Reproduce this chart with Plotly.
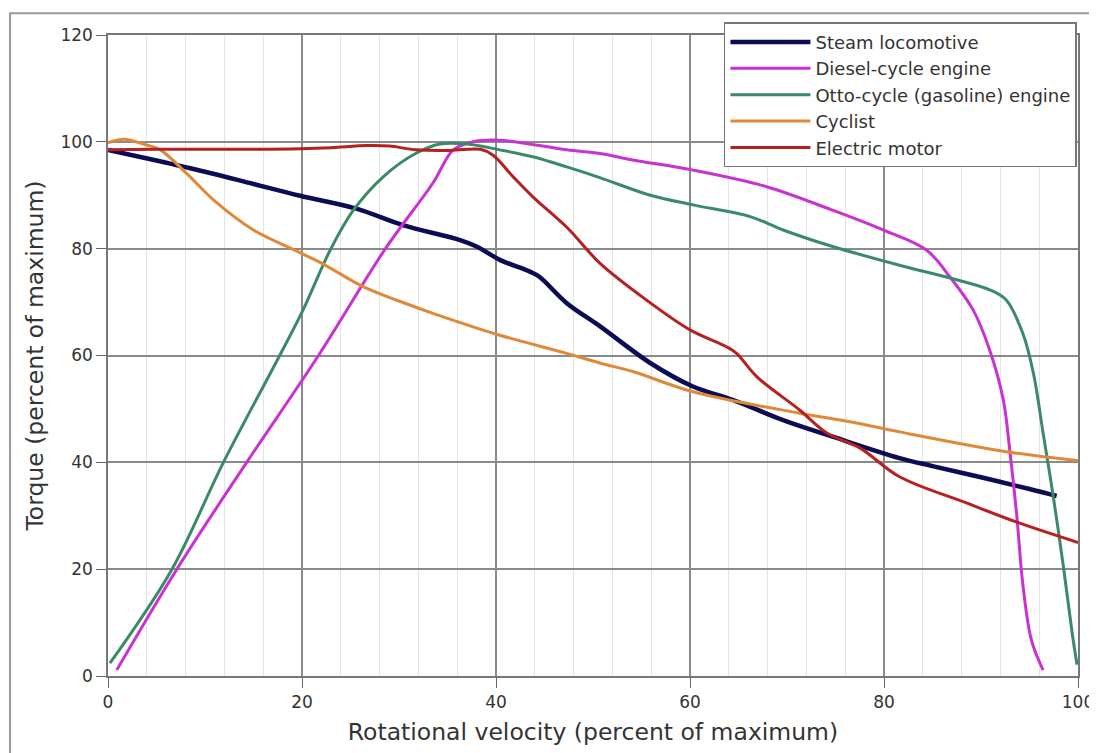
import plotly.graph_objects as go

# ---- data ----
steam_x = [0, 5, 10, 15, 19.8, 25.6, 30.4, 36.3, 38, 40.4, 43.5, 44.5, 47.3, 50.7, 55.9, 60.3, 64.4, 69.6, 74.7, 81.6, 85, 90, 95, 97.8]
steam_y = [98.5, 96.5, 94.4, 92.1, 89.9, 87.5, 84.4, 81.6, 80.4, 77.9, 75.7, 74.7, 69.8, 65.5, 58.6, 54.2, 51.7, 47.9, 44.8, 40.8, 39.3, 37.2, 35.0, 33.7]

diesel_x = [0.9, 7.1, 14.3, 21.7, 28.6, 33.5, 35.6, 37.6, 40.4, 47.3, 50.7, 54.1, 60.3, 67.9, 74.7, 79.9, 84.4, 86.8, 89.2, 90.9, 92.3, 93.0, 93.7, 94.3, 95.2, 96.4]
diesel_y = [1.1, 20, 40, 60, 80, 92.3, 98.5, 100, 100.3, 98.5, 97.8, 96.6, 94.7, 91.6, 87.2, 83.5, 79.7, 74.7, 68.5, 61, 51.7, 41.7, 29.8, 17.4, 6.7, 1.1]

otto_x = [0.2, 6.6, 11.9, 17.7, 20.1, 22.9, 25.3, 28.4, 31.8, 34.2, 37, 40.4, 43.8, 47.3, 50.7, 55.9, 60.3, 66.2, 69.6, 74.7, 81.6, 86.8, 90.9, 92.6, 94.3, 95.4, 96.4, 97.5, 98.5, 99.4, 99.9]
otto_y = [2.4, 20, 40, 60, 68.5, 79.7, 87.2, 93.5, 97.9, 99.6, 99.6, 98.5, 97.2, 95.3, 93.3, 90, 88.2, 86, 83.5, 80.4, 76.9, 74.5, 72.3, 70.4, 64.2, 56.7, 45.5, 33, 20.4, 8, 2.1]

cyclist_x = [0, 1.6, 4, 5.4, 8.1, 10.9, 15, 18.8, 22, 26.3, 30, 33.5, 40.4, 47.3, 50.7, 54.1, 60.3, 71.3, 76.5, 81.6, 92.6, 100]
cyclist_y = [99.8, 100.5, 99.4, 98.5, 94.1, 89.1, 83.5, 80.1, 77.3, 72.9, 70.2, 67.9, 63.8, 60.4, 58.6, 57, 53.2, 49.2, 47.6, 45.7, 42, 40.3]

electric_x = [0, 5, 10, 15, 19.8, 23, 26.7, 29, 31.8, 35.3, 38.4, 39.7, 41.8, 43.8, 47.3, 50.7, 55.5, 60, 63.8, 64.8, 66.9, 71.3, 74.1, 77.5, 81.6, 88.5, 93.7, 100]
electric_y = [98.5, 98.6, 98.6, 98.6, 98.7, 98.9, 99.3, 99.2, 98.5, 98.4, 98.6, 97.5, 93.4, 89.7, 84, 77.3, 70.4, 64.8, 61.6, 60.4, 56, 49.8, 45.5, 42.7, 37.3, 32.4, 28.8, 25]

series_names = ["Steam locomotive", "Diesel-cycle engine", "Otto-cycle (gasoline) engine", "Cyclist", "Electric motor"]
series_colors = ["#0c0c55", "#c832d2", "#3a8a68", "#e0883a", "#b52020"]
series_widths = [4.5, 3, 3, 3, 3]

x_ticks = [0, 20, 40, 60, 80, 100]
y_ticks = [0, 20, 40, 60, 80, 100, 120]

fig = go.Figure()
for name, xs, ys, c, w in zip(series_names,
                              [steam_x, diesel_x, otto_x, cyclist_x, electric_x],
                              [steam_y, diesel_y, otto_y, cyclist_y, electric_y],
                              series_colors, series_widths):
    fig.add_trace(go.Scatter(x=xs, y=ys, name=name, mode="lines",
                             line=dict(color=c, width=w, shape="spline", smoothing=1.0)))

font_fam = "DejaVu Sans, Verdana, sans-serif"
# the page body adds an 8px offset, so the figure is sized/margined to compensate
fig.update_layout(
    width=1089, height=745,
    margin=dict(l=100, r=19, t=27, b=77, autoexpand=False),
    paper_bgcolor="white", plot_bgcolor="white",
    font=dict(family=font_fam, color="#333333", size=16),
    showlegend=True,
    legend=dict(x=0.635, y=1.02, xanchor="left", yanchor="top",
                bgcolor="white", bordercolor="#777777", borderwidth=1.5,
                font=dict(size=18, color="#333333"), tracegroupgap=0,
                itemwidth=80, entrywidth=300, entrywidthmode="pixels"),
    xaxis=dict(range=[0, 100], tickvals=x_ticks, showgrid=True, gridcolor="#8a8a8a", gridwidth=1.5,
               minor=dict(dtick=4, tick0=0, showgrid=True, gridcolor="#e4e4e4", gridwidth=1),
               ticks="outside", ticklen=10, tickcolor="#666666", tickfont=dict(size=17),
               showline=True, linecolor="#777777", linewidth=1.5, mirror=True, zeroline=False,
               automargin=False,
               title=dict(text="Rotational velocity (percent of maximum)", font=dict(size=23.5), standoff=12)),
    yaxis=dict(range=[0, 120], tickvals=y_ticks, showgrid=True, gridcolor="#8a8a8a", gridwidth=1.5,
               ticks="outside", ticklen=10, tickcolor="#666666", tickfont=dict(size=17),
               showline=True, linecolor="#777777", linewidth=1.5, mirror=True, zeroline=False,
               automargin=False,
               title=dict(text="Torque (percent of maximum)", font=dict(size=23.5), standoff=10)),
)

# outer frame around the figure
fig.add_shape(type="rect", xref="paper", yref="paper",
              x0=-0.101, x1=1.06, y0=-0.2, y1=1.034,
              line=dict(color="#999999", width=2), fillcolor="rgba(0,0,0,0)", layer="below")

fig.write_html("out.html")
